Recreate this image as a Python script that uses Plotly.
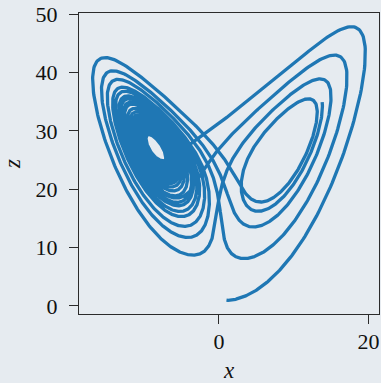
import numpy as np
import plotly.graph_objects as go

# Lorenz system parameters and initial state
sigma, rho, beta = 10.0, 28.0, 8.0 / 3.0
initial_state = [1.0, 1.0, 1.0]
t_span = [0.0, 20.0]
dt = 0.001

x_ticks = [-20, 0, 20]
z_ticks = [0, 10, 20, 30, 40, 50]


def lorenz(s):
    x, y, z = s
    return np.array([sigma * (y - x), x * (rho - z) - y, x * y - beta * z])


def integrate(state, t0, t1, h):
    n = int(round((t1 - t0) / h))
    out = np.empty((n + 1, 3))
    out[0] = state
    s = np.array(state, dtype=float)
    for i in range(n):
        k1 = lorenz(s)
        k2 = lorenz(s + 0.5 * h * k1)
        k3 = lorenz(s + 0.5 * h * k2)
        k4 = lorenz(s + h * k3)
        s = s + h / 6.0 * (k1 + 2 * k2 + 2 * k3 + k4)
        out[i + 1] = s
    return out


traj = integrate(initial_state, t_span[0], t_span[1], dt)
xs, zs = traj[:, 0], traj[:, 2]


def padded(v, frac=0.05):
    lo, hi = float(v.min()), float(v.max())
    pad = (hi - lo) * frac
    return [lo - pad, hi + pad]


bg = "#e6ebf0"
ink = "#2b2b2b"
serif = "Liberation Serif, DejaVu Serif, serif"

fig = go.Figure(
    go.Scatter(
        x=xs[::2], y=zs[::2], mode="lines",
        line=dict(color="#1f77b4", width=3.3),
        hoverinfo="skip",
    )
)

axis_common = dict(
    showgrid=False, zeroline=False, automargin=False,
    showline=True, mirror=True, linecolor=ink, linewidth=1.3,
    ticks="outside", ticklen=9, tickwidth=1.3, tickcolor=ink,
    tickfont=dict(family=serif, size=22, color="#111111"),
)

fig.update_xaxes(
    range=padded(xs), tickvals=x_ticks, ticktext=[str(v) for v in x_ticks],
    ticklabelstandoff=-2,
    title=dict(text="<i>x</i>", font=dict(family=serif, size=23, color="#111111"), standoff=17),
    **axis_common,
)
fig.update_yaxes(
    range=padded(zs), tickvals=z_ticks, ticktext=[str(v) for v in z_ticks],
    ticklabelstandoff=7,
    title=dict(text="<i>z</i>", font=dict(family=serif, size=23, color="#111111"), standoff=10),
    **axis_common,
)

fig.update_layout(
    width=381, height=383,
    margin=dict(l=79, r=2, t=13, b=69),
    paper_bgcolor=bg, plot_bgcolor=bg,
    showlegend=False,
)

fig.write_html("out.html")
